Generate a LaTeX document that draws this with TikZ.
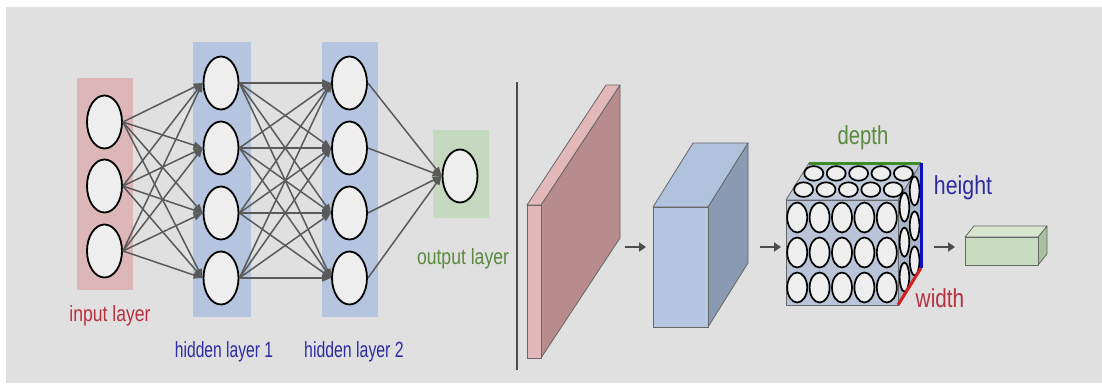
\documentclass[tikz,border=0pt]{standalone}
\usepackage{fontspec}
\setmainfont{Liberation Sans}
\usepackage{graphicx}
\usetikzlibrary{shapes.geometric,arrows.meta}
\definecolor{bg}{HTML}{E0E0E0}
\definecolor{pinkL}{HTML}{DDB6B8}
\definecolor{blueL}{HTML}{B5C5DF}
\definecolor{greenL}{HTML}{C5D8C0}
\definecolor{cellfill}{HTML}{EEEEEE}
\definecolor{conncol}{HTML}{5A5A5A}
\definecolor{txtred}{HTML}{B8303F}
\definecolor{txtblue}{HTML}{2C2CA0}
\definecolor{txtgreen}{HTML}{5A8A40}
\definecolor{slabfront}{HTML}{E2B8B8}
\definecolor{slabside}{HTML}{B88C8C}
\definecolor{boxfront}{HTML}{B4C6E0}
\definecolor{boxtop}{HTML}{B0C2DC}
\definecolor{boxside}{HTML}{8A9AB2}
\definecolor{cubefront}{HTML}{B9C4D8}
\definecolor{cubetop}{HTML}{C2CBDC}
\definecolor{cubeside}{HTML}{A8B4C8}
\definecolor{gbfront}{HTML}{C8DCC0}
\definecolor{gbtop}{HTML}{D8E6D0}
\definecolor{gbside}{HTML}{A8C0A0}
\definecolor{edgegreen}{HTML}{3C8C28}
\definecolor{edgeblue}{HTML}{1010C0}
\definecolor{edgered}{HTML}{D02020}
\newcommand{\sx}[2]{\scalebox{#1}[1]{#2}}
\begin{document}
\begin{tikzpicture}[x=1pt,y=-1pt,
  neuron/.style={ellipse,draw=black,line width=1.8pt,fill=cellfill,minimum width=35pt,minimum height=53pt,inner sep=0pt},
  conn/.style={draw=conncol,line width=1.5pt,-{Triangle[length=9pt,width=7pt]}},
  lab/.style={font=\fontsize{22pt}{24pt}\selectfont,inner sep=0pt,anchor=base},
  cubelab/.style={font=\fontsize{26pt}{28pt}\selectfont,inner sep=0pt,anchor=base},
  solid3d/.style={draw=black!60,line width=0.8pt,line join=round},
  cell/.style={draw=black,line width=1.7pt,fill=cellfill},
  flowarrow/.style={draw=black!70,line width=2.6pt,-{Triangle[length=7pt,width=9pt]}},
  divider/.style={draw=black!70,line width=1.2pt}]
\useasboundingbox (0,0) rectangle (1102,383);
\fill[white] (0,0) rectangle (1102,383);
\fill[bg] (6,7) rectangle (1102,383);

% layer backgrounds
\fill[pinkL] (77,78) rectangle (133,290);
\fill[blueL] (193,42) rectangle (251,317);
\fill[blueL] (322,42) rectangle (378,317);
\fill[greenL] (433,130) rectangle (489,218);

% neurons
\foreach \i/\y in {1/122,2/186,3/251} \node[neuron] (i\i) at (104.5,\y) {};
\foreach \i/\y in {1/83,2/148,3/213,4/278} {
  \node[neuron] (a\i) at (221,\y) {};
  \node[neuron] (b\i) at (349.5,\y) {};
}
\node[neuron] (o) at (460,176) {};

% connections
\foreach \i in {1,2,3} \foreach \j in {1,...,4} \draw[conn] (i\i.east) -- (a\j.west);
\foreach \i in {1,...,4} \foreach \j in {1,...,4} \draw[conn] (a\i.east) -- (b\j.west);
\foreach \i in {1,...,4} \draw[conn] (b\i.east) -- (o.west);

% labels
\node[lab,text=txtred] (tin) at (110,321) {\sx{0.80}{input layer}};
\node[lab,text=txtblue] (th1) at (224,357) {\sx{0.71}{hidden layer 1}};
\node[lab,text=txtblue] (th2) at (354,357) {\sx{0.72}{hidden layer 2}};
\node[lab,text=txtgreen] (tout) at (463,264) {\sx{0.80}{output layer}};

% divider
\coordinate (dv1) at (517,82);
\coordinate (dv2) at (517,370);
\draw[divider] (dv1) -- (dv2);

% pink slab
\filldraw[solid3d,fill=slabside] (541,205) -- (620,85) -- (620,238) -- (541,358) -- cycle;
\filldraw[solid3d,fill=slabfront] (527,205) -- (541,205) -- (620,85) -- (606,85) -- cycle;
\filldraw[solid3d,fill=slabfront] (527,205) rectangle (541,358);

% blue box
\filldraw[solid3d,fill=boxside] (708,207) -- (748,143) -- (748,263) -- (708,327) -- cycle;
\filldraw[solid3d,fill=boxtop] (653,207) -- (708,207) -- (748,143) -- (693,143) -- cycle;
\filldraw[solid3d,fill=boxfront] (653,207) rectangle (708,327);

% conv cube
\filldraw[solid3d,fill=cubeside] (898,200) -- (921,163) -- (921,268) -- (898,305) -- cycle;
\filldraw[solid3d,fill=cubetop] (786,200) -- (898,200) -- (921,163) -- (809,163) -- cycle;
\filldraw[solid3d,fill=cubefront] (786,200) rectangle (898,305);
\foreach \x in {797.2,819.6,842,864.4,886.8} {
  \foreach \y in {217.5,252.5,287.5}
    \draw[cell] (\x,\y) ellipse [x radius=10pt, y radius=15pt];
  \draw[cell] (\x+6.4,189.6) ellipse [x radius=9.5pt, y radius=7.3pt];
  \draw[cell] (\x+16.6,173.4) ellipse [x radius=9.5pt, y radius=7.3pt];
}
\foreach \y in {217.5,252.5,287.5} {
  \draw[cell] (904.4,\y-10.4) ellipse [x radius=4.8pt, y radius=14.5pt];
  \draw[cell] (914.6,\y-26.6) ellipse [x radius=4.8pt, y radius=14.5pt];
}
\coordinate (cA) at (809,163);
\coordinate (cB) at (921,163);
\coordinate (cC) at (921,268);
\coordinate (cD) at (898,305);
\draw[edgegreen,line width=3pt] (cA) -- (cB);
\draw[edgeblue,line width=3pt] (cB) -- (cC);
\draw[edgered,line width=3pt] (cC) -- (cD);
\node[cubelab,text=txtgreen] (tdepth) at (863,144) {\sx{0.78}{depth}};
\node[cubelab,text=txtblue] (theight) at (963,194) {\sx{0.82}{height}};
\node[cubelab,text=txtred] (twidth) at (940,307) {\sx{0.80}{width}};

% green output box
\filldraw[solid3d,fill=gbside] (1038,237) -- (1047,226) -- (1047,254) -- (1038,265) -- cycle;
\filldraw[solid3d,fill=gbtop] (965,237) -- (1038,237) -- (1047,226) -- (974,226) -- cycle;
\filldraw[solid3d,fill=gbfront] (965,237) rectangle (1038,265);

% flow arrows
\coordinate (f1a) at (625,247); \coordinate (f1b) at (646,247);
\coordinate (f2a) at (760,247); \coordinate (f2b) at (781,247);
\coordinate (f3a) at (934,247); \coordinate (f3b) at (955,247);
\draw[flowarrow] (f1a) -- (f1b);
\draw[flowarrow] (f2a) -- (f2b);
\draw[flowarrow] (f3a) -- (f3b);
\end{tikzpicture}
\end{document}
